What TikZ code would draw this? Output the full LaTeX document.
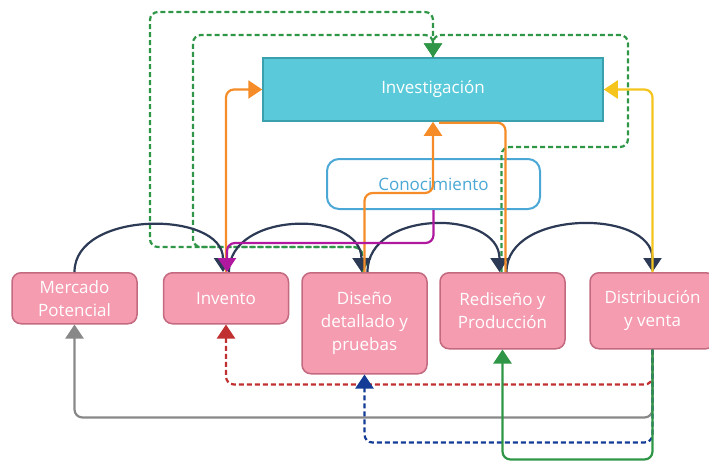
\documentclass[tikz,border=0pt]{standalone}
\usepackage{fontspec}
\setmainfont{Open Sans}
\usetikzlibrary{arrows.meta}
\usetikzlibrary{positioning}
\definecolor{boxpink}{RGB}{245,156,176}
\definecolor{boxpinkborder}{RGB}{196,106,128}
\definecolor{invteal}{RGB}{90,202,218}
\definecolor{invtealborder}{RGB}{58,160,174}
\definecolor{conblue}{RGB}{75,168,214}
\definecolor{arcnavy}{RGB}{45,58,85}
\definecolor{linegreen}{RGB}{46,150,70}
\definecolor{lineorange}{RGB}{245,140,40}
\definecolor{lineyellow}{RGB}{245,197,30}
\definecolor{linemagenta}{RGB}{176,24,160}
\definecolor{linered}{RGB}{192,48,48}
\definecolor{lineblue}{RGB}{20,60,150}
\definecolor{linegray}{RGB}{136,136,136}

\tikzset{
  stage/.style={draw=boxpinkborder, fill=boxpink, line width=1.5pt, rounded corners=9pt,
    minimum width=125pt, text=white, align=center, anchor=north,
    font=\fontsize{17}{23}\selectfont},
  research/.style={draw=invtealborder, fill=invteal, line width=1.5pt,
    minimum width=340pt, minimum height=63pt, text=white,
    font=\fontsize{17}{23}\selectfont},
  knowledge/.style={draw=conblue, fill=white, line width=2pt, rounded corners=12pt,
    minimum width=213pt, minimum height=50pt, text=conblue,
    font=\fontsize{17}{23}\selectfont},
  tip/.style={-{Triangle[width=18pt,length=14pt]}},
  link/.style={line width=2.2pt, rounded corners=8pt, tip},
  dashlink/.style={link, dash pattern=on 5pt off 3pt},
}

\begin{document}
\begin{tikzpicture}[x=1pt,y=-1pt]
\useasboundingbox (0,0) rectangle (709,461);
\clip (0,0) rectangle (709,461);

% main boxes
\node[research] (invest) at (433,89.5) {Investigación};
\node[knowledge] (conoc) at (433.5,184) {Conocimiento};

\node[stage, minimum height=51pt] (mercado) at (74.5,272) {Mercado\\Potencial};
\node[stage, minimum height=51pt] (invento) at (226,272) {Invento};
\node[stage, minimum height=101pt] (diseno) at (364.5,272) {Diseño\\detallado y\\pruebas};
\node[stage, minimum height=76pt] (redis) at (502.5,272) {Rediseño y\\Producción};
\node[stage, minimum height=76pt] (distrib) at (652.5,272) {Distribución\\y venta};

% green dashed loops round the top
\draw[dashlink, linegreen] ([xshift=-2pt]diseno.north) -- (362,247) -- (150,247) -- (150,12) -- (433,12) -- (invest.north);
\draw[dashlink, linegreen] (invest.north) -- (433,35) -- (193,35) -- (193,247) -- (362,247) -- ([xshift=-2pt]diseno.north);
\draw[dashlink, linegreen] ([xshift=-1pt]redis.north) -- (501.5,147) -- (628,147) -- (628,35) -- (433,35) -- (invest.north);

% chain of arcs
\draw[link, arcnavy] (mercado.north) .. controls +(0,-62) and +(0,-62) .. ([xshift=-3pt]invento.north);
\draw[link, arcnavy] ([xshift=3pt]invento.north) .. controls +(0,-62) and +(0,-62) .. ([xshift=-3pt]diseno.north);
\draw[link, arcnavy] ([xshift=3pt]diseno.north) .. controls +(0,-63) and +(0,-63) .. ([xshift=-3pt]redis.north);
\draw[link, arcnavy] ([xshift=4pt]redis.north) .. controls +(0,-63) and +(0,-63) .. (distrib.north);

% feedback into Investigacion
\draw[link, lineorange] (invento.north) |- (invest.west);
\draw[link, lineorange] (diseno.north) -- ++(0,-79) -| (invest.south);
\draw[line width=2.2pt, rounded corners=8pt, lineorange] ([xshift=3pt]redis.north) |- ([xshift=6pt,yshift=-1pt]invest.south);
\draw[link, lineyellow] (distrib.north) |- (invest.east);
\draw[link, linemagenta] (conoc.south) -- ++(0,33) -| ([xshift=1pt]invento.north);

% returns from Distribucion
\draw[dashlink, linered] (distrib.south) -- ++(0,35) -| (invento.south);
\draw[link, linegray] (distrib.south) -- ++(0,68) -| (mercado.south);
\draw[dashlink, lineblue] (distrib.south) -- ++(0,93) -| (diseno.south);
\draw[link, linegreen] (distrib.south) -- ++(0,110) -| (redis.south);

\end{tikzpicture}
\end{document}
